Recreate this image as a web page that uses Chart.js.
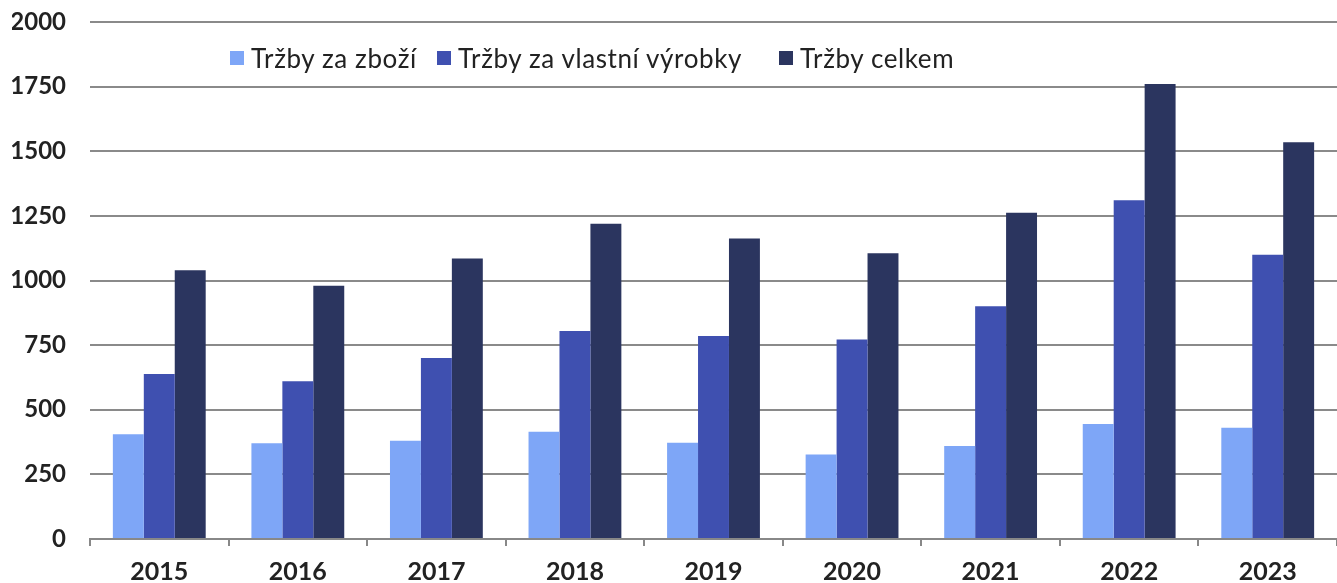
<!DOCTYPE html>
<html>
<head>
<meta charset="utf-8">
<script src="https://cdn.jsdelivr.net/npm/chart.js@4/dist/chart.umd.min.js"></script>
<style>
  html, body { margin: 0; padding: 0; background: #fff; }
  #wrap { position: relative; width: 1337px; height: 583px; }
  #legend {
    position: absolute; left: 0; top: 0; width: 100%;
    font-family: Lato, "DejaVu Sans", sans-serif; font-size: 26px; color: #222;
  }
  #legend .item { position: absolute; top: 42px; display: flex; align-items: center; white-space: nowrap; letter-spacing: 0.6px; }
  #legend .sw { width: 14px; height: 14px; margin-right: 7px; }
</style>
</head>
<body>
<div id="wrap">
  <canvas id="chart"></canvas>
  <div id="legend"></div>
</div>
<script>
/* ---------------- DATA ---------------- */

const years = ["2015", "2016", "2017", "2018", "2019", "2020", "2021", "2022", "2023"];
const seriesNames = ["Tržby za zboží", "Tržby za vlastní výrobky", "Tržby celkem"];

const trzbyZbozi = [405, 370, 380, 415, 372, 327, 360, 445, 430];
const trzbyVyrobky = [638, 610, 700, 805, 785, 772, 900, 1310, 1100];
const trzbyCelkem = [1040, 980, 1085, 1220, 1162, 1105, 1262, 1760, 1535];

const yTicks = [0, 250, 500, 750, 1000, 1250, 1500, 1750, 2000];

const colors = ["#7ea6f7", "#3f50b0", "#2b355f"];

/* ---------------- LEGEND ---------------- */

const legendLeft = [230, 437, 779];
const legend = document.getElementById("legend");
legend.innerHTML = seriesNames.map((n, i) =>
  `<span class="item" style="left:${legendLeft[i]}px"><span class="sw" style="background:${colors[i]}"></span>${n}</span>`
).join("");

/* ---------------- CHART ---------------- */

const font = "Lato, 'DejaVu Sans', sans-serif";

new Chart(document.getElementById("chart"), {
  type: "bar",
  data: {
    labels: years,
    datasets: [trzbyZbozi, trzbyVyrobky, trzbyCelkem].map((d, i) => ({
      label: seriesNames[i],
      data: d,
      backgroundColor: colors[i],
      categoryPercentage: 0.67,
      barPercentage: 1.0
    }))
  },
  options: {
    responsive: true,
    maintainAspectRatio: false,
    animation: false,
    layout: { padding: { top: 22, right: 0, left: 12, bottom: 0 } },
    plugins: { legend: { display: false }, tooltip: { enabled: false } },
    scales: {
      x: {
        afterFit: (s) => { s.height = 44; },
        grid: { display: true, drawOnChartArea: false, drawTicks: true, tickLength: 7, color: "#888", lineWidth: 2, offset: true },
        border: { display: true, color: "#888", width: 2 },
        ticks: { color: "#222", font: { family: font, size: 25, weight: "bold", lineHeight: 1.0 }, padding: 13 }
      },
      y: {
        min: 0,
        max: 2000,
        afterBuildTicks: (axis) => { axis.ticks = yTicks.map(v => ({ value: v })); },
        afterFit: (s) => { s.width = 78; s.paddingTop = 0; s.paddingBottom = 0; },
        grid: { color: "#8a8a8a", lineWidth: 2, drawTicks: false },
        border: { display: false },
        ticks: { color: "#222", font: { family: font, size: 24, weight: "bold" }, padding: 24, callback: v => String(v) }
      }
    }
  }
});
</script>
</body>
</html>
